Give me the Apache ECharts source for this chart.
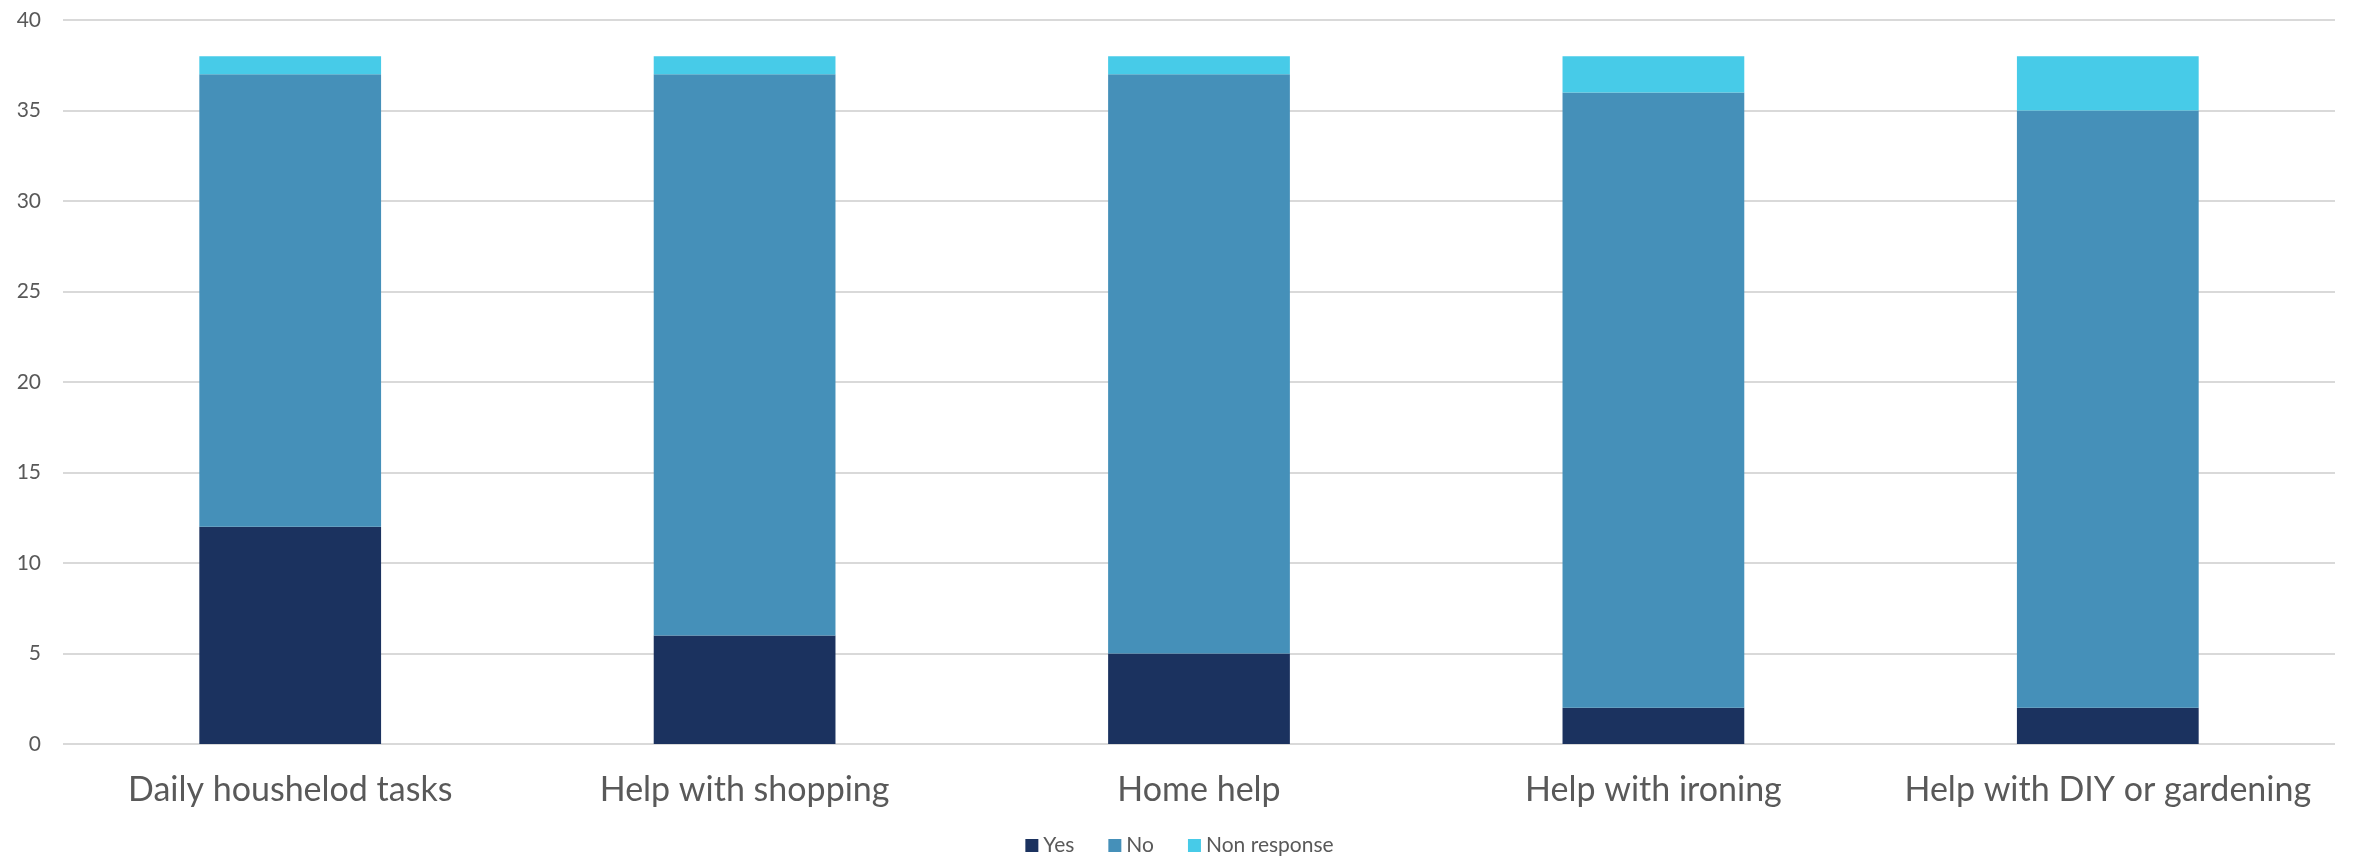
<!DOCTYPE html>
<html>
<head>
<meta charset="utf-8">
<script src="https://cdn.jsdelivr.net/npm/echarts@6/dist/echarts.min.js"></script>
<style>
  html, body { margin: 0; padding: 0; background: #fff; }
  #chart { width: 2359px; height: 865px; }
</style>
</head>
<body>
<div id="chart"></div>
<script>
const categories = ['Daily houshelod tasks', 'Help with shopping', 'Home help', 'Help with ironing', 'Help with DIY or gardening'];
const yesValues = [12, 6, 5, 2, 2];
const noValues = [25, 31, 32, 34, 33];
const nonResponseValues = [1, 1, 1, 2, 3];

const chart = echarts.init(document.getElementById('chart'));
const font = 'Lato, "Open Sans", sans-serif';

chart.setOption({
  animation: false,
  textStyle: { fontFamily: font, color: '#595959' },
  grid: { left: 63, right: 24, top: 20, bottom: 121 },
  legend: {
    bottom: 4,
    left: 'center',
    itemWidth: 13,
    itemHeight: 13,
    itemGap: 34,
    icon: 'rect',
    textStyle: { fontSize: 21, color: '#595959', fontFamily: font },
    data: ['Yes', 'No', 'Non response']
  },
  xAxis: {
    type: 'category',
    data: categories,
    axisLine: { show: false },
    axisTick: { show: false },
    axisLabel: { interval: 0, fontSize: 34, color: '#595959', margin: 29, fontFamily: font }
  },
  yAxis: {
    type: 'value',
    min: 0,
    max: 40,
    interval: 5,
    axisLine: { show: false },
    axisTick: { show: false },
    axisLabel: { fontSize: 21, color: '#595959', margin: 22, fontFamily: font },
    splitLine: { lineStyle: { color: '#d9d9d9', width: 2 } }
  },
  series: [
    { name: 'Yes', type: 'bar', stack: 'total', barWidth: '40%', data: yesValues, itemStyle: { color: '#1B325F' } },
    { name: 'No', type: 'bar', stack: 'total', data: noValues, itemStyle: { color: '#4590B9' } },
    { name: 'Non response', type: 'bar', stack: 'total', data: nonResponseValues, itemStyle: { color: '#47CBE8' } }
  ]
});
</script>
</body>
</html>
